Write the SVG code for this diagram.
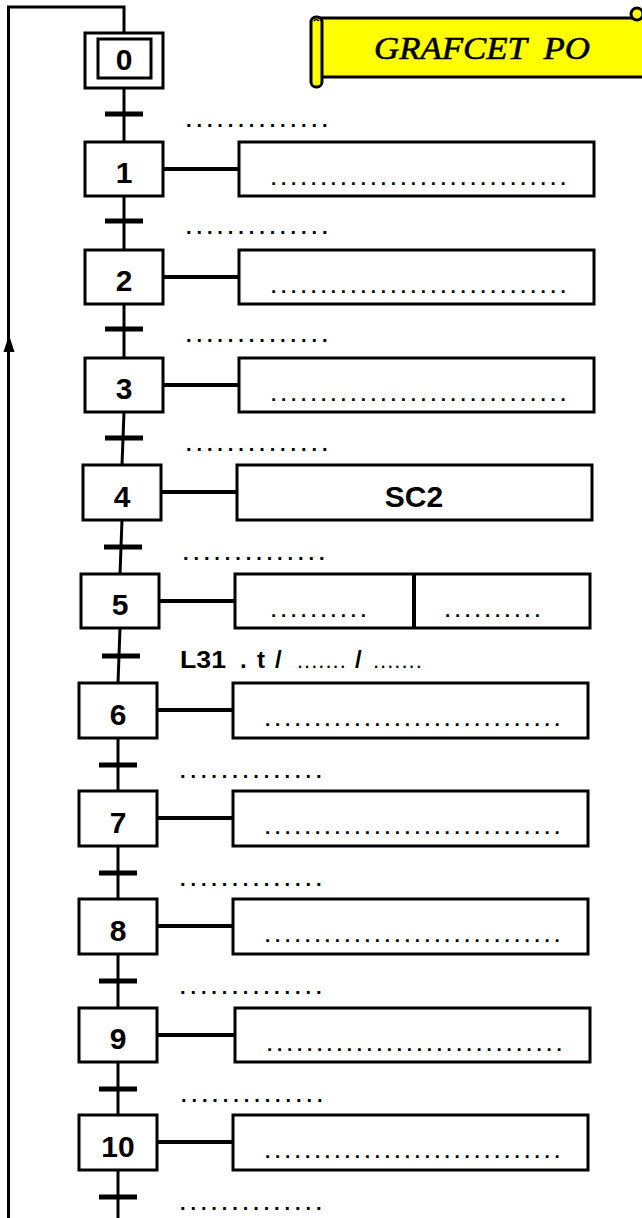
<svg xmlns="http://www.w3.org/2000/svg" width="642" height="1218" viewBox="0 0 642 1218">
<style>
.box{fill:#fff;stroke:#000;stroke-width:3}
.ln{fill:none;stroke:#000;stroke-width:3}
.lk{fill:none;stroke:#000;stroke-width:4}
.bar{stroke:#000;stroke-width:5}
.num{font-family:"Liberation Sans",Arial,sans-serif;font-weight:bold;font-size:30px;text-anchor:middle}
.tr{font-family:"Liberation Sans",Arial,sans-serif;font-weight:bold;font-size:20px;letter-spacing:4.9px}
.ac{font-family:"Liberation Sans",Arial,sans-serif;font-weight:bold;font-size:19px;letter-spacing:4.7px}
.lb{font-family:"Liberation Sans",Arial,sans-serif;font-weight:bold;font-size:24px}
.ld{font-family:"Liberation Sans",Arial,sans-serif;font-size:22px;letter-spacing:1px}
</style>
<rect width="642" height="1218" fill="#fff"/>
<g id="title">
<rect x="318" y="18" width="330" height="59" fill="#ffff00" stroke="#000" stroke-width="3"/>
<circle cx="637" cy="14" r="6" fill="#ffff00" stroke="#000" stroke-width="3"/>
<rect x="311" y="17" width="11" height="70" rx="5" fill="#ffff00" stroke="#000" stroke-width="3"/>
<path d="M314 21 Q316 18 319 21" fill="none" stroke="#000" stroke-width="1.5"/>
<text x="482" y="59" font-family="Liberation Serif,Times New Roman,serif" font-style="italic" font-size="32" text-anchor="middle" textLength="216" lengthAdjust="spacingAndGlyphs" stroke="#000" stroke-width="0.6" style="white-space:pre">GRAFCET  PO</text>
</g>
<g id="connectors">
<path class="ln" d="M124 33 V7 H8.5 V1218"/>
<polygon points="9,335 3.5,352 14.5,352" fill="#000"/>
<path class="ln" d="M124 88 V142 M124 196 V250 M124 304 V358 M124 412 L122 465 M122 520 L120 574 M120 628 L118 683 M118 738 V791 M118 846 V899 M118 954 V1008 M118 1062 V1115 M118 1170 V1218"/>
<path class="bar" d="M105 114 H143 M105 221 H143 M105 329 H143 M105 438 H143 M104 547 H142 M102 656 H140 M99 765 H137 M99 873 H137 M99 981 H137 M99 1089 H137 M99 1197 H137"/>
<path class="lk" d="M163 169 H239 M163 277 H239 M163 385 H239 M161 492 H237 M159 601 H235 M157 710 H233 M157 818 H233 M157 926 H233 M157 1035 H235 M157 1142 H233"/>
</g>
<g id="transitions">
<text class="tr" x="186" y="127">..............</text>
<text class="tr" x="186" y="234">..............</text>
<text class="tr" x="186" y="342">..............</text>
<text class="tr" x="186" y="451">..............</text>
<text class="tr" x="183" y="560">..............</text>
<g id="label5">
<text class="lb" x="180" y="668" textLength="46" lengthAdjust="spacingAndGlyphs">L31</text>
<text class="lb" x="240" y="668" font-size="28">.</text>
<text class="lb" x="257" y="668">t</text>
<text class="lb" x="275" y="668">/</text>
<text class="ld" x="297" y="668">.......</text>
<text class="lb" x="355" y="668">/</text>
<text class="ld" x="373" y="668">.......</text>
</g>
<text class="tr" x="180" y="778">..............</text>
<text class="tr" x="180" y="886">..............</text>
<text class="tr" x="180" y="994">..............</text>
<text class="tr" x="181" y="1102">..............</text>
<text class="tr" x="180" y="1210">..............</text>
</g>
<g id="step0"><rect class="box" x="85" y="33" width="78" height="55"/><rect class="box" x="98" y="39" width="53" height="39"/><text class="num" x="124" y="70">0</text></g>
<g id="step1"><rect class="box" x="85" y="142" width="78" height="54"/><text class="num" x="124" y="183">1</text></g>
<g id="step2"><rect class="box" x="85" y="250" width="78" height="54"/><text class="num" x="124" y="291">2</text></g>
<g id="step3"><rect class="box" x="85" y="358" width="78" height="54"/><text class="num" x="124" y="399">3</text></g>
<g id="step4"><rect class="box" x="83" y="465" width="78" height="55"/><text class="num" x="122" y="507">4</text></g>
<g id="step5"><rect class="box" x="81" y="574" width="78" height="54"/><text class="num" x="120" y="615">5</text></g>
<g id="step6"><rect class="box" x="79" y="683" width="78" height="55"/><text class="num" x="118" y="725">6</text></g>
<g id="step7"><rect class="box" x="79" y="791" width="78" height="55"/><text class="num" x="118" y="833">7</text></g>
<g id="step8"><rect class="box" x="79" y="899" width="78" height="55"/><text class="num" x="118" y="941">8</text></g>
<g id="step9"><rect class="box" x="79" y="1008" width="78" height="54"/><text class="num" x="118" y="1049">9</text></g>
<g id="step10"><rect class="box" x="79" y="1115" width="78" height="55"/><text class="num" x="118" y="1157">10</text></g>
<g id="action1"><rect class="box" x="239" y="142" width="355" height="54"/><text class="ac" x="271" y="185">..............................</text></g>
<g id="action2"><rect class="box" x="239" y="250" width="355" height="54"/><text class="ac" x="271" y="293">..............................</text></g>
<g id="action3"><rect class="box" x="239" y="358" width="355" height="54"/><text class="ac" x="271" y="401">..............................</text></g>
<g id="action4"><rect class="box" x="237" y="465" width="355" height="55"/><text class="num" x="414" y="507">SC2</text></g>
<g id="action5"><rect class="box" x="235" y="574" width="355" height="54"/><line x1="414" y1="574" x2="414" y2="628" stroke="#000" stroke-width="4"/><text class="ac" x="271" y="617">..........</text><text class="ac" x="445" y="617">..........</text></g>
<g id="action6"><rect class="box" x="233" y="683" width="355" height="55"/><text class="ac" x="265" y="726">..............................</text></g>
<g id="action7"><rect class="box" x="233" y="791" width="355" height="55"/><text class="ac" x="265" y="834">..............................</text></g>
<g id="action8"><rect class="box" x="233" y="899" width="355" height="55"/><text class="ac" x="265" y="942">..............................</text></g>
<g id="action9"><rect class="box" x="235" y="1008" width="355" height="54"/><text class="ac" x="267" y="1051">..............................</text></g>
<g id="action10"><rect class="box" x="233" y="1115" width="355" height="55"/><text class="ac" x="265" y="1158">..............................</text></g>
</svg>
